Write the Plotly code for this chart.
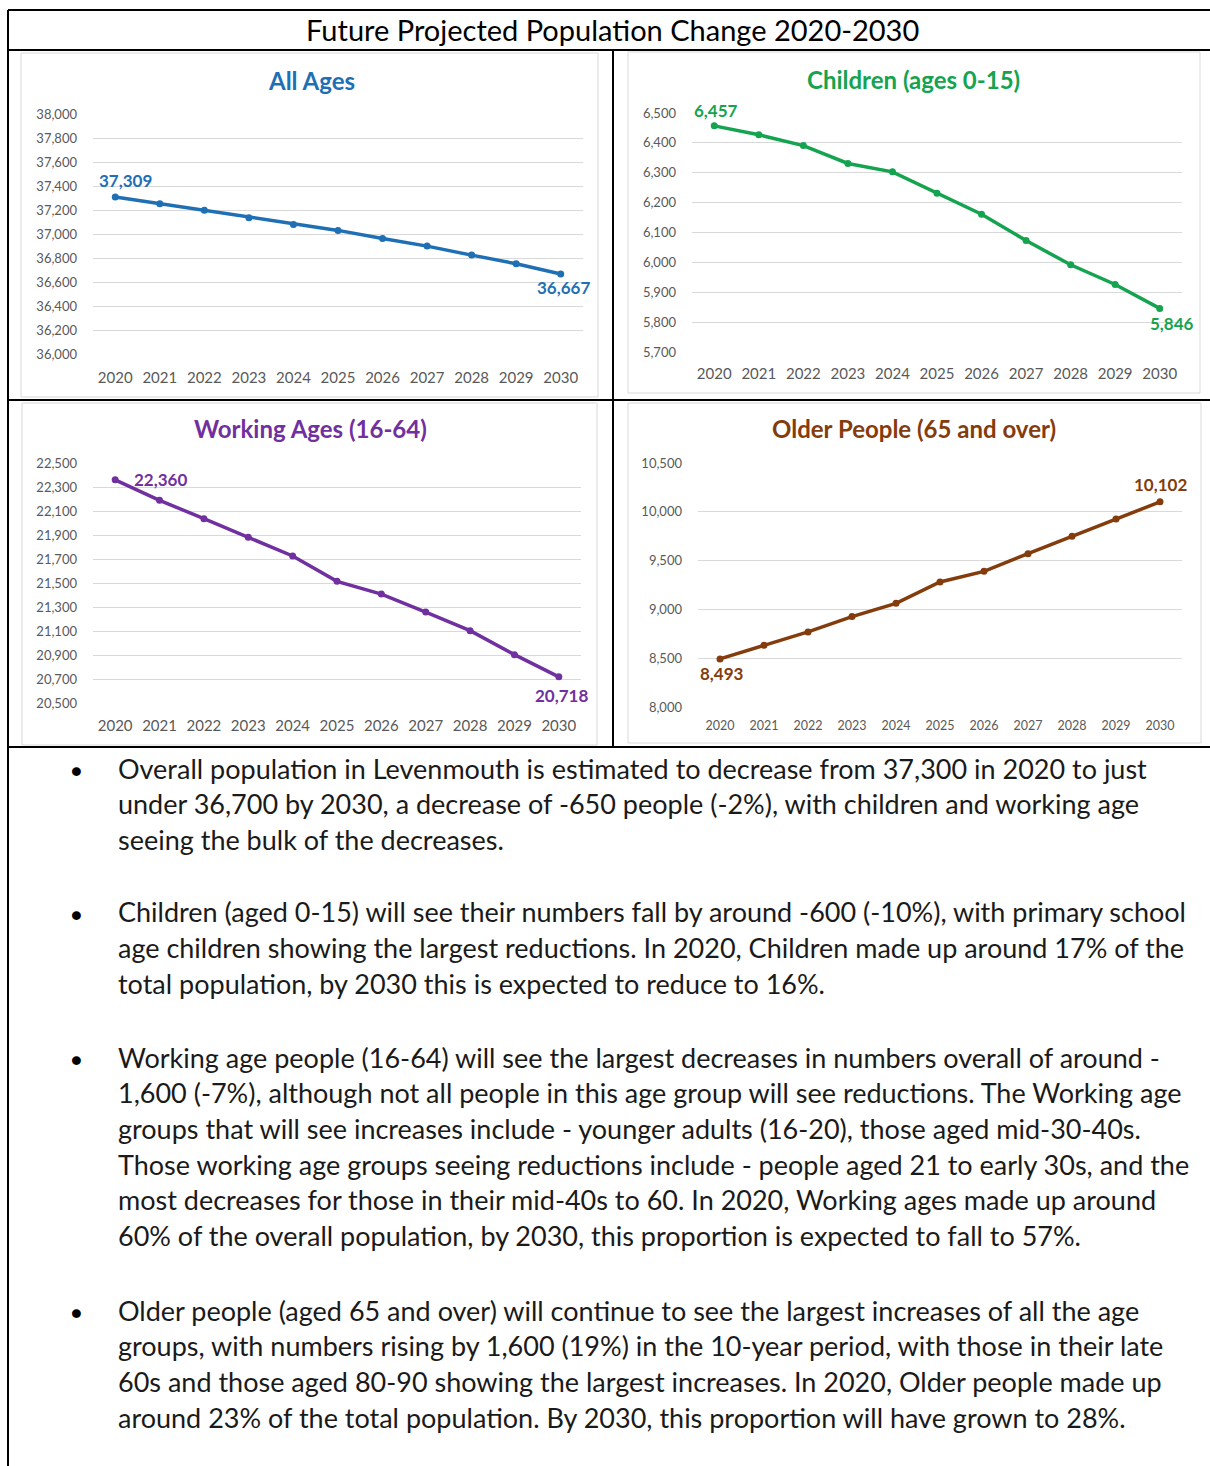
import plotly.graph_objects as go
from plotly.subplots import make_subplots

W, H = 1210, 1466

years = [2020, 2021, 2022, 2023, 2024, 2025, 2026, 2027, 2028, 2029, 2030]

all_ages = [37309, 37253, 37198, 37136, 37080, 37030, 36963, 36899, 36824, 36752, 36667]
children = [6457, 6427, 6391, 6331, 6303, 6231, 6161, 6073, 5992, 5926, 5846]
working = [22360, 22189, 22036, 21881, 21725, 21514, 21408, 21258, 21103, 20903, 20718]
older = [8493, 8632, 8769, 8926, 9062, 9281, 9390, 9571, 9749, 9926, 10102]

chart_titles = ["All Ages", "Children (ages 0-15)", "Working Ages (16-64)", "Older People (65 and over)"]
colors = ["#1F6FB4", "#14A450", "#7030A0", "#843C0C"]
main_title = "Future Projected Population Change 2020-2030"

bullets = [
    ["Overall population in Levenmouth is estimated to decrease from 37,300 in 2020 to just",
     "under 36,700 by 2030, a decrease of -650 people (-2%), with children and working age",
     "seeing the bulk of the decreases."],
    ["Children (aged 0-15) will see their numbers fall by around -600 (-10%), with primary school",
     "age children showing the largest reductions. In 2020, Children made up around 17% of the",
     "total population, by 2030 this is expected to reduce to 16%."],
    ["Working age people (16-64) will see the largest decreases in numbers overall of around -",
     "1,600 (-7%), although not all people in this age group will see reductions. The Working age",
     "groups that will see increases include - younger adults (16-20), those aged mid-30-40s.",
     "Those working age groups seeing reductions include - people aged 21 to early 30s, and the",
     "most decreases for those in their mid-40s to 60. In 2020, Working ages made up around",
     "60% of the overall population, by 2030, this proportion is expected to fall to 57%."],
    ["Older people (aged 65 and over) will continue to see the largest increases of all the age",
     "groups, with numbers rising by 1,600 (19%) in the 10-year period, with those in their late",
     "60s and those aged 80-90 showing the largest increases. In 2020, Older people made up",
     "around 23% of the total population. By 2030, this proportion will have grown to 28%."],
]


def px(x):
    return x / W


def py(y):
    return 1 - y / H


FONT = "Lato"
series = [all_ages, children, working, older]

# pixel layout of each chart: plot box, y range, tick step, title pos, chart frame
charts = [
    dict(box=(93, 114, 583, 354), yr=(36000, 38000), dt=200, title=(311, 80), frame=(21, 53, 598, 397), xfs=15,
         xso=13, lab=[(10, 16), (3, -14)]),
    dict(box=(692, 113, 1182, 352), yr=(5700, 6500), dt=100, title=(913, 79), frame=(628, 52, 1200, 393), xfs=15,
         xso=11, lab=[(2, 15), (12, -15)]),
    dict(box=(93, 463, 581, 703), yr=(20500, 22500), dt=200, title=(310, 429), frame=(22, 403, 597, 745), xfs=15,
         xso=12, lab=[(45, 0), (3, -19)]),
    dict(box=(698, 463, 1182, 707), yr=(8000, 10500), dt=500, title=(914, 429), frame=(628, 403, 1201, 743), xfs=12.5,
         xso=9, lab=[(2, -15), (0, 17)]),
]

fig = make_subplots(rows=2, cols=2)
shapes = []
annotations = []

for i, (vals, c, t, ch) in enumerate(zip(series, colors, chart_titles, charts)):
    r, cc = i // 2 + 1, i % 2 + 1
    fig.add_trace(go.Scatter(x=years, y=vals, mode="lines+markers",
                             line=dict(color=c, width=3.5), marker=dict(color=c, size=7),
                             showlegend=False, hoverinfo="x+y"), row=r, col=cc)
    x0, y0, x1, y1 = ch["box"]
    fig.update_xaxes(domain=[px(x0), px(x1)], range=[2019.5, 2030.5], tickmode="array", tickvals=years,
                     ticktext=[str(y) for y in years], showgrid=False, zeroline=False, showline=False,
                     ticks="", ticklabelstandoff=ch["xso"], automargin=False,
                     tickfont=dict(family=FONT, size=ch["xfs"], color="#595959"), fixedrange=True, row=r, col=cc)
    fig.update_yaxes(domain=[py(y1), py(y0)], range=list(ch["yr"]), tick0=ch["yr"][0], dtick=ch["dt"],
                     tickformat=",d", showgrid=True, gridcolor="#D9D9D9", gridwidth=1, zeroline=False,
                     showline=False, ticks="", ticklabelstandoff=15, automargin=False,
                     tickfont=dict(family=FONT, size=13, color="#595959"), fixedrange=True, row=r, col=cc)
    xa = "x" if i == 0 else f"x{i + 1}"
    ya = "y" if i == 0 else f"y{i + 1}"
    # first / last data labels
    for k, (dx, dy) in zip([0, -1], ch["lab"]):
        annotations.append(dict(x=years[k], y=vals[k], xref=xa, yref=ya, text=f"<b>{vals[k]:,}</b>",
                                showarrow=False, xshift=dx, yshift=dy,
                                font=dict(family=FONT, size=17, color=c)))
    annotations.append(dict(x=px(ch["title"][0]), y=py(ch["title"][1]), xref="paper", yref="paper",
                            text=f"<b>{t}</b>", showarrow=False, xanchor="center", yanchor="middle",
                            font=dict(family=FONT, size=24, color=c)))
    fx0, fy0, fx1, fy1 = ch["frame"]
    shapes.append(dict(type="rect", xref="paper", yref="paper", x0=px(fx0), x1=px(fx1), y0=py(fy1), y1=py(fy0),
                       line=dict(color="#D9D9D9", width=1), layer="below"))

# table lines
black = dict(color="black", width=2)
for (xa0, ya0, xa1, ya1) in [(8, 10, 1210, 10), (8, 50, 1210, 50), (8, 400, 1210, 400), (8, 747, 1210, 747),
                             (8, 10, 8, 1466), (613, 50, 613, 747)]:
    shapes.append(dict(type="line", xref="paper", yref="paper", x0=px(xa0), x1=px(xa1), y0=py(ya0), y1=py(ya1),
                       line=black))

annotations.append(dict(x=px(612), y=py(30), xref="paper", yref="paper", text=main_title, showarrow=False,
                        xanchor="center", yanchor="middle", font=dict(family=FONT, size=29, color="black")))

# bullet text
para_top = [768, 912, 1057, 1310]
line_gap = 35.7
for top, para in zip(para_top, bullets):
    annotations.append(dict(x=px(77), y=py(top + 2), xref="paper", yref="paper", text="\u25CF", showarrow=False,
                            xanchor="center", yanchor="middle", font=dict(family=FONT, size=18, color="black")))
    for j, line in enumerate(para):
        annotations.append(dict(x=px(116), y=py(top + j * line_gap), xref="paper", yref="paper", text=line,
                                showarrow=False, xanchor="left", yanchor="middle",
                                font=dict(family=FONT, size=27, color="#1a1a1a")))

fig.update_layout(width=W, height=H, margin=dict(l=0, r=0, t=0, b=0, autoexpand=False), paper_bgcolor="white",
                  plot_bgcolor="white", shapes=shapes, annotations=annotations)

fig.write_html("out.html", config={"displayModeBar": False},
               post_script="document.body.style.margin='0';")
